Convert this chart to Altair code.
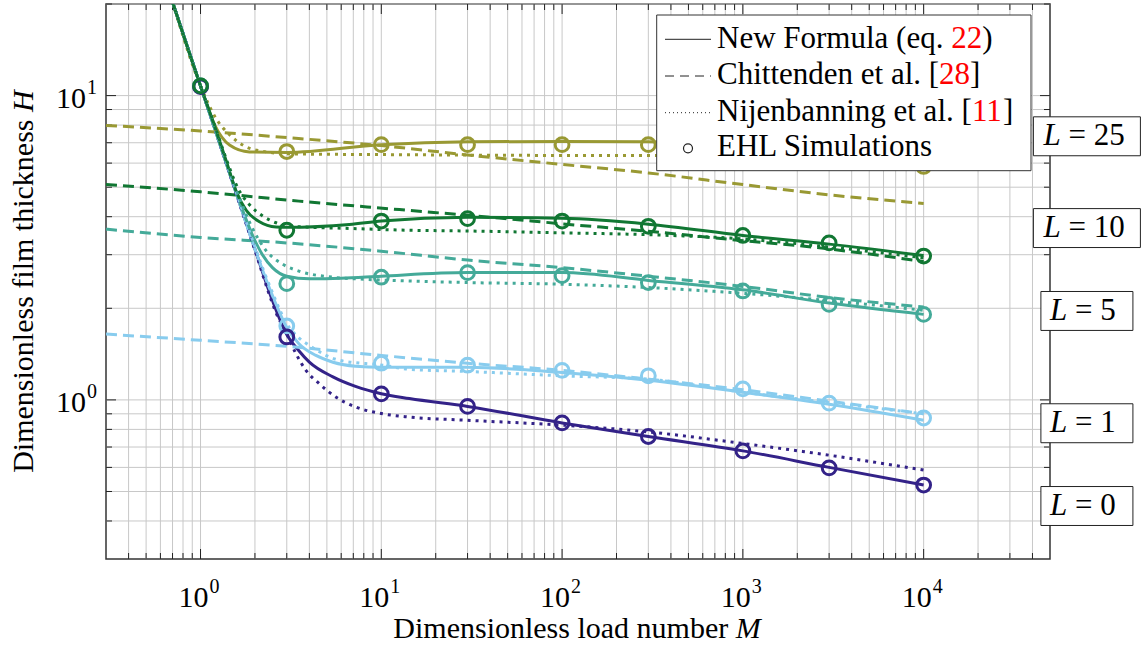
import altair as alt
import pandas as pd

FONT = "Liberation Serif"
FS = 31
FS_AX = 30
FS_SUP = 20

# ---------------- series identifiers ----------------
L_names = ["L0", "L1", "L5", "L10", "L25"]
L_colors = ["#332288", "#88CCEE", "#44AA99", "#117733", "#999933"]

# ---------------- New Formula (eq. 22) : solid ----------------
new_L0_M = [0.7, 1, 1.5, 2, 2.5, 3, 3.5, 4, 5.4, 7.2, 10, 14.3, 30, 100, 300, 1000, 3000, 10000]
new_L0_H = [20.3, 10.76, 5.22, 3.13, 2.12, 1.64, 1.45, 1.33, 1.19, 1.107, 1.047, 1.01, 0.952, 0.84, 0.758, 0.68, 0.60, 0.525]
new_L1_M = [0.7, 1, 1.5, 2, 2.5, 3, 3.5, 4.35, 5.4, 7.2, 10, 30, 100, 300, 1000, 3000, 10000]
new_L1_H = [20.3, 10.76, 5.22, 3.13, 2.2, 1.73, 1.53, 1.40, 1.33, 1.29, 1.28, 1.28, 1.23, 1.16, 1.06, 0.967, 0.857]
new_L5_M = [0.7, 1, 1.3, 1.55, 1.75, 1.95, 2.2, 2.5, 3, 4, 6, 10, 30, 100, 300, 1000, 3000, 10000]
new_L5_H = [20.3, 10.76, 6.75, 4.95, 4.05, 3.45, 3.0, 2.72, 2.55, 2.5, 2.51, 2.55, 2.62, 2.62, 2.47, 2.3, 2.08, 1.91]
new_L10_M = [0.7, 1, 1.2, 1.4, 1.575, 1.79, 2.12, 2.62, 3, 6.65, 10, 30, 100, 300, 1000, 3000, 10000]
new_L10_H = [20.3, 10.76, 7.9, 6.0, 4.85, 4.2, 3.85, 3.7, 3.69, 3.77, 3.87, 3.98, 3.95, 3.78, 3.47, 3.25, 2.98]
new_L25_M = [0.7, 1, 1.195, 1.447, 1.865, 3, 10, 30, 100, 300, 1000, 3000, 10000]
new_L25_H = [20.3, 10.76, 8.03, 6.88, 6.53, 6.5, 6.9, 7.05, 7.07, 7.05, 6.8, 6.35, 5.9]

# ---------------- Chittenden et al. [28] : dashed ----------------
chi_L1_M = [0.3, 1, 3, 10, 30, 100, 300, 1000, 3000, 10000]
chi_L1_H = [1.645, 1.57, 1.50, 1.40, 1.32, 1.25, 1.17, 1.08, 0.99, 0.90]
chi_L5_M = [0.3, 1, 3, 10, 30, 100, 300, 1000, 3000, 10000]
chi_L5_H = [3.64, 3.42, 3.28, 3.08, 2.88, 2.72, 2.55, 2.36, 2.17, 2.02]
chi_L10_M = [0.3, 1, 3.5, 12.6, 45, 100, 290, 838, 2400, 10000]
chi_L10_H = [5.1, 4.83, 4.5, 4.22, 3.96, 3.79, 3.59, 3.37, 3.18, 2.85]
chi_L25_M = [0.3, 1, 3, 10, 30, 100, 300, 1000, 3000, 10000]
chi_L25_H = [7.98, 7.65, 7.28, 6.85, 6.38, 5.94, 5.57, 5.1, 4.72, 4.42]

# ---------------- Nijenbanning et al. [11] : dotted ----------------
nij_L0_M = [0.7, 1, 1.5, 2, 2.46, 2.62, 3.0, 3.38, 3.83, 4.54, 5.63, 7.24, 10.2, 14.3, 30, 100, 300, 1000, 3000, 10000]
nij_L0_H = [20.3, 10.76, 5.2, 3.1, 2.13, 1.93, 1.65, 1.415, 1.25, 1.13, 1.02, 0.947, 0.90, 0.878, 0.857, 0.826, 0.785, 0.719, 0.658, 0.588]
nij_L1_M = [0.7, 1, 1.5, 2, 2.5, 3, 3.5, 4, 5.85, 10.2, 14.3, 30, 100, 300, 1000, 3000, 10000]
nij_L1_H = [20.3, 10.76, 5.25, 3.18, 2.25, 1.78, 1.6, 1.51, 1.35, 1.30, 1.26, 1.24, 1.2, 1.17, 1.06, 0.98, 0.90]
nij_L5_M = [0.7, 1, 1.3, 1.6, 1.9, 2.3, 2.85, 3.5, 5.4, 8.2, 14, 30, 100, 300, 1000, 3000, 10000]
nij_L5_H = [20.3, 10.76, 6.8, 4.8, 3.75, 3.1, 2.79, 2.65, 2.53, 2.49, 2.46, 2.43, 2.4, 2.34, 2.24, 2.12, 1.97]
nij_L10_M = [0.7, 1, 1.2, 1.4, 1.6, 1.865, 2.21, 2.62, 3.23, 6.65, 14.3, 30, 100, 300, 1000, 3000, 10000]
nij_L10_H = [20.3, 10.76, 7.95, 6.1, 5.0, 4.38, 4.02, 3.82, 3.72, 3.66, 3.61, 3.59, 3.54, 3.49, 3.38, 3.18, 2.93]
nij_L25_M = [0.7, 1, 1.22, 1.447, 1.71, 2.21, 3.23, 10, 100, 300, 1000, 3000, 10000]
nij_L25_H = [20.3, 10.76, 8.4, 7.44, 6.88, 6.56, 6.43, 6.4, 6.36, 6.36, 6.25, 6.05, 5.75]

# ---------------- EHL simulations : circles ----------------
sim_M = [1, 3, 10, 30, 100, 300, 1000, 3000, 10000]
sim_L0_H = [10.7, 1.61, 1.047, 0.952, 0.84, 0.758, 0.68, 0.598, 0.525]
sim_L1_H = [10.76, 1.75, 1.32, 1.30, 1.25, 1.20, 1.087, 0.976, 0.872]
sim_L5_H = [10.76, 2.41, 2.53, 2.62, 2.56, 2.43, 2.28, 2.06, 1.91]
sim_L10_H = [10.76, 3.61, 3.87, 3.94, 3.87, 3.72, 3.47, 3.28, 2.97]
sim_L25_H = [10.76, 6.55, 6.9, 6.9, 6.9, 6.9, 6.75, 6.35, 5.85]

# ---------------- right-hand L labels ----------------
lab_text = ["25", "10", "5", "1", "0"]
lab_H = [7.35, 3.67, 1.96, 0.838, 0.448]
lab_M = 80000

# ---------------- axis ticks / labels ----------------
x_major = [1, 10, 100, 1000, 10000]
x_minor = [0.4, 0.5, 0.6, 0.7, 0.8, 0.9,
           2, 3, 4, 5, 6, 7, 8, 9,
           20, 30, 40, 50, 60, 70, 80, 90,
           200, 300, 400, 500, 600, 700, 800, 900,
           2000, 3000, 4000, 5000, 6000, 7000, 8000, 9000,
           20000, 30000, 40000]
y_major = [1, 10]
y_minor = [0.4, 0.5, 0.6, 0.7, 0.8, 0.9, 2, 3, 4, 5, 6, 7, 8, 9, 20]
x_exp = ["0", "1", "2", "3", "4"]
y_exp = ["0", "1"]


def fr(M, H, L):
    return pd.DataFrame({"M": M, "H": H, "L": L})


solid = pd.concat([fr(new_L25_M, new_L25_H, "L25"), fr(new_L0_M, new_L0_H, "L0"),
                   fr(new_L1_M, new_L1_H, "L1"), fr(new_L5_M, new_L5_H, "L5"),
                   fr(new_L10_M, new_L10_H, "L10")], ignore_index=True)
dashed = pd.concat([fr(chi_L25_M, chi_L25_H, "L25"), fr(chi_L1_M, chi_L1_H, "L1"),
                    fr(chi_L5_M, chi_L5_H, "L5"), fr(chi_L10_M, chi_L10_H, "L10")], ignore_index=True)
dotted = pd.concat([fr(nij_L25_M, nij_L25_H, "L25"), fr(nij_L0_M, nij_L0_H, "L0"),
                    fr(nij_L1_M, nij_L1_H, "L1"), fr(nij_L5_M, nij_L5_H, "L5"),
                    fr(nij_L10_M, nij_L10_H, "L10")], ignore_index=True)
sims = pd.concat([fr(sim_M, sim_L25_H, "L25"), fr(sim_M, sim_L5_H, "L5"),
                  fr(sim_M, sim_L1_H, "L1"), fr(sim_M, sim_L0_H, "L0"),
                  fr(sim_M, sim_L10_H, "L10")], ignore_index=True)

labels = pd.DataFrame({"M": [lab_M] * len(lab_text), "H": lab_H,
                       "eq": ["= " + t for t in lab_text], "n": [len(t) for t in lab_text]})
lab2 = labels[labels["n"] == 2]
lab1 = labels[labels["n"] == 1]

W, Hh = 944, 555
xs = alt.Scale(type="log", domain=[0.3, 50000], nice=False)
ys = alt.Scale(type="log", domain=[0.3, 20], nice=False)
col = alt.Color("L:N", scale=alt.Scale(domain=L_names, range=L_colors), legend=None)
X = alt.X("M:Q", scale=xs, axis=None)
Y = alt.Y("H:Q", scale=ys, axis=None)

layers = []

# grid lines (through the scales)
layers.append(alt.Chart(pd.DataFrame({"M": x_major + x_minor})).mark_rule(
    color="#c8c8c8", strokeWidth=1).encode(x=X, y=alt.value(0), y2=alt.value(Hh)))
layers.append(alt.Chart(pd.DataFrame({"H": y_major + y_minor})).mark_rule(
    color="#c8c8c8", strokeWidth=1).encode(y=Y, x=alt.value(0), x2=alt.value(W)))


# inward ticks on all four sides
def xticks(vals, y0, y1):
    return alt.Chart(pd.DataFrame({"M": vals})).mark_rule(color="#222", strokeWidth=1).encode(
        x=X, y=alt.value(y0), y2=alt.value(y1))


def yticks(vals, x0, x1):
    return alt.Chart(pd.DataFrame({"H": vals})).mark_rule(color="#222", strokeWidth=1).encode(
        y=Y, x=alt.value(x0), x2=alt.value(x1))


layers += [xticks(x_major, Hh, Hh - 10), xticks(x_minor, Hh, Hh - 6),
           xticks(x_major, 0, 10), xticks(x_minor, 0, 6),
           yticks(y_major, 0, 10), yticks(y_minor, 0, 6),
           yticks(y_major, W, W - 10), yticks(y_minor, W, W - 6)]

# tick labels 10^k
xl = pd.DataFrame({"M": x_major, "base": ["10"] * len(x_major), "sup": x_exp})
yl = pd.DataFrame({"H": y_major, "base": ["10"] * len(y_major), "sup": y_exp})
layers.append(alt.Chart(xl).mark_text(font=FONT, fontSize=FS_AX, align="right", baseline="middle",
                                      dx=8, color="black").encode(x=X, y=alt.value(594), text="base:N"))
layers.append(alt.Chart(xl).mark_text(font=FONT, fontSize=FS_SUP, align="left", baseline="middle",
                                      dx=9, color="black").encode(x=X, y=alt.value(583), text="sup:N"))
layers.append(alt.Chart(yl).mark_text(font=FONT, fontSize=FS_AX, align="right", baseline="middle",
                                      dy=3, color="black").encode(y=Y, x=alt.value(-20), text="base:N"))
layers.append(alt.Chart(yl).mark_text(font=FONT, fontSize=FS_SUP, align="left", baseline="middle",
                                      dy=-8, color="black").encode(y=Y, x=alt.value(-19), text="sup:N"))

# data
layers.append(alt.Chart(solid).mark_line(strokeWidth=3, clip=True, interpolate="monotone").encode(
    x=X, y=Y, color=col, detail="L:N"))
layers.append(alt.Chart(dashed).mark_line(strokeWidth=3, clip=True, strokeDash=[11, 6],
                                          interpolate="monotone").encode(x=X, y=Y, color=col, detail="L:N"))
layers.append(alt.Chart(dotted).mark_line(strokeWidth=3, clip=True, strokeDash=[3, 5],
                                          interpolate="monotone").encode(x=X, y=Y, color=col, detail="L:N"))
layers.append(alt.Chart(sims).mark_point(shape="circle", filled=False, size=190, strokeWidth=3,
                                         opacity=1).encode(x=X, y=Y, color=col))

one = pd.DataFrame({"k": [0]})


def txt(s, x, y, **kw):
    opts = dict(font=FONT, fontSize=FS, color="black", align="left", baseline="middle")
    opts.update(kw)
    return alt.Chart(one).mark_text(text=s, **opts).encode(x=alt.value(x), y=alt.value(y))


# legend box
layers.append(alt.Chart(one).mark_rect(fill="white", stroke="#333", strokeWidth=1).encode(
    x=alt.value(550.7), x2=alt.value(925), y=alt.value(11), y2=alt.value(166.7)))
leg_y = [35.3, 72, 108.7, 144.3]
txt_y = [34.8, 71, 107.7, 143]
layers.append(alt.Chart(one).mark_rule(color="#222", strokeWidth=1).encode(
    x=alt.value(559), x2=alt.value(605), y=alt.value(leg_y[0])))
layers.append(alt.Chart(one).mark_rule(color="#222", strokeWidth=1, strokeDash=[9, 6]).encode(
    x=alt.value(559), x2=alt.value(605), y=alt.value(leg_y[1])))
layers.append(alt.Chart(one).mark_rule(color="#222", strokeWidth=1, strokeDash=[1, 3]).encode(
    x=alt.value(559), x2=alt.value(605), y=alt.value(leg_y[2])))
layers.append(alt.Chart(one).mark_point(shape="circle", filled=False, size=81, strokeWidth=1.2,
                                        color="#222", opacity=1).encode(
    x=alt.value(582), y=alt.value(leg_y[3])))
TX = 611
layers += [
    txt("New Formula (eq.", TX, txt_y[0]), txt("22", TX + 234.2, txt_y[0], color="#ff0000"),
    txt(")", TX + 265.2, txt_y[0]),
    txt("Chittenden et al. [", TX, txt_y[1]), txt("28", TX + 222.1, txt_y[1], color="#ff0000"),
    txt("]", TX + 253.1, txt_y[1]),
    txt("Nijenbanning et al. [", TX, txt_y[2]), txt("11", TX + 254.9, txt_y[2], color="#ff0000"),
    txt("]", TX + 285.9, txt_y[2]),
    txt("EHL Simulations", TX, txt_y[3]),
]

# right-hand L = ... boxes
for df, half, dxL, dxE in [(lab2, 1.0, -43.5, -18.5), (lab1, 0.86, -37, -12)]:
    path = f"M{-half},-0.364H{half}V0.364H{-half}Z"
    layers.append(alt.Chart(df).mark_point(shape=path, size=11449, filled=True, fill="white",
                                           stroke="#222", strokeWidth=1, opacity=1).encode(x=X, y=Y))
    layers.append(alt.Chart(df).mark_text(text="L", font=FONT, fontSize=FS, fontStyle="italic",
                                          align="left", baseline="middle", dx=dxL, color="black").encode(x=X, y=Y))
    layers.append(alt.Chart(df).mark_text(font=FONT, fontSize=FS, align="left", baseline="middle",
                                          dx=dxE, color="black").encode(x=X, y=Y, text="eq:N"))

# axis titles
layers += [
    txt("Dimensionless load number", 287.3, 625, fontSize=FS_AX),
    txt("M", 629.8, 625, fontSize=FS_AX, fontStyle="italic"),
    txt("Dimensionless film thickness", -82.5, 468.8, fontSize=FS_AX, angle=270),
    txt("H", -82.5, 107.9, fontSize=FS_AX, angle=270, fontStyle="italic"),
]

chart = alt.layer(*layers).properties(
    width=W, height=Hh,
    padding={"left": 106, "top": 4, "right": 98, "bottom": 86},
    autosize=alt.AutoSizeParams(type="none"),
    background="white",
).configure_view(stroke="#333", strokeWidth=1.5)

chart.save("out.html", embed_options={"renderer": "svg", "actions": False})
